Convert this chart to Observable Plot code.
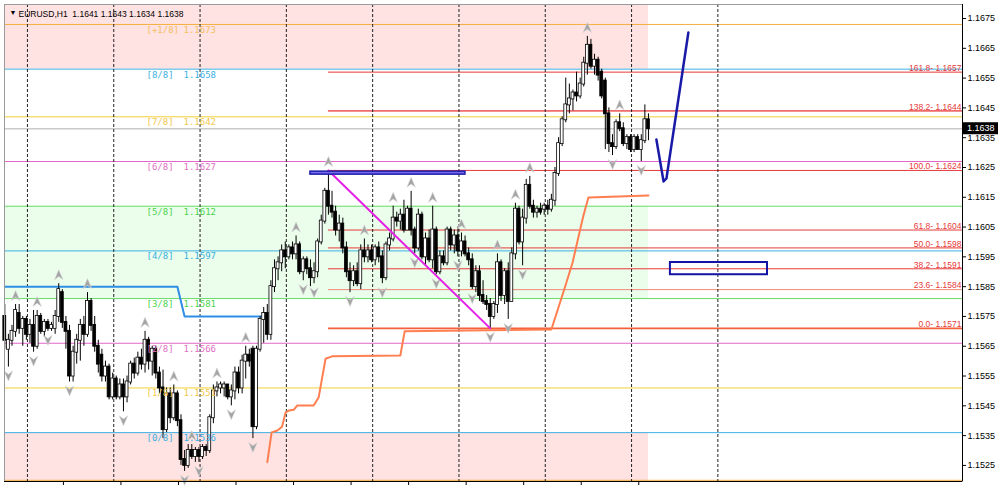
<!DOCTYPE html>
<html><head><meta charset="utf-8">
<script src="https://cdn.jsdelivr.net/npm/d3@7"></script>
<script src="https://cdn.jsdelivr.net/npm/@observablehq/plot@0.6"></script>
<style>
html,body{margin:0;padding:0;background:#fff;}
#chart{width:999px;height:486px;overflow:hidden;}
#chart svg{display:block;}
</style></head><body><div id="chart"></div>
<script>
const symbolName = "EURUSD,H1";
const lastQuote = [1.1641, 1.1643, 1.1634, 1.1638];

const opens = [1.1575,1.1564,1.1567,1.1570,1.1576,1.1571,1.1574,1.1569,1.1572,1.1565,1.1575,1.1570,1.1573,1.1571,1.1571,1.1575,1.1583,1.1573,1.1570,1.1555,
1.1563,1.1567,1.1572,1.1569,1.1580,1.1572,1.1565,1.1562,1.1555,1.1558,1.1548,1.1554,1.1548,1.1552,1.1548,1.1553,1.1559,1.1556,1.1561,1.1559,
1.1567,1.1560,1.1564,1.1556,1.1551,1.1537,1.1549,1.1541,1.1549,1.1540,1.1527,1.1525,1.1530,1.1528,1.1530,1.1528,1.1531,1.1530,1.1541,1.1550,
1.1551,1.1551,1.1552,1.1548,1.1550,1.1556,1.1551,1.1560,1.1562,1.1564,1.1538,1.1564,1.1574,1.1576,1.1569,1.1585,1.1591,1.1593,1.1597,1.1595,
1.1598,1.1596,1.1599,1.1590,1.1594,1.1591,1.1588,1.1590,1.1600,1.1607,1.1617,1.1612,1.1610,1.1604,1.1606,1.1598,1.1590,1.1587,1.1590,1.1586,
1.1597,1.1595,1.1597,1.1594,1.1598,1.1595,1.1588,1.1599,1.1601,1.1608,1.1607,1.1609,1.1604,1.1611,1.1604,1.1598,1.1609,1.1595,1.1601,1.1594,
1.1604,1.1590,1.1595,1.1593,1.1604,1.1599,1.1602,1.1597,1.1600,1.1596,1.1594,1.1585,1.1590,1.1582,1.1580,1.1579,1.1575,1.1579,1.1593,1.1582,
1.1590,1.1580,1.1596,1.1611,1.1600,1.1608,1.1619,1.1612,1.1610,1.1611,1.1611,1.1612,1.1611,1.1614,1.1623,1.1633,1.1641,1.1646,1.1648,1.1650,
1.1649,1.1653,1.1660,1.1666,1.1659,1.1661,1.1657,1.1654,1.1643,1.1633,1.1632,1.1640,1.1638,1.1633,1.1635,1.1631,1.1635,1.1631,1.1634,1.1641];
const highs = [1.1579,1.1569,1.1572,1.1579,1.1579,1.1575,1.1575,1.1574,1.1577,1.1577,1.1576,1.1574,1.1574,1.1573,1.1577,1.1586,1.1584,1.1575,1.1572,1.1565,
1.1569,1.1574,1.1575,1.1583,1.1581,1.1575,1.1567,1.1564,1.1560,1.1559,1.1556,1.1555,1.1554,1.1554,1.1555,1.1560,1.1561,1.1563,1.1564,1.1570,
1.1568,1.1565,1.1565,1.1558,1.1557,1.1551,1.1551,1.1552,1.1550,1.1542,1.1530,1.1532,1.1532,1.1531,1.1531,1.1532,1.1532,1.1542,1.1552,1.1553,
1.1553,1.1553,1.1552,1.1552,1.1558,1.1558,1.1562,1.1565,1.1564,1.1565,1.1565,1.1575,1.1578,1.1579,1.1587,1.1594,1.1595,1.1599,1.1600,1.1599,
1.1600,1.1602,1.1600,1.1595,1.1595,1.1594,1.1593,1.1601,1.1609,1.1618,1.1624,1.1617,1.1612,1.1609,1.1608,1.1600,1.1593,1.1592,1.1593,1.1599,
1.1601,1.1599,1.1599,1.1599,1.1600,1.1597,1.1600,1.1603,1.1612,1.1610,1.1611,1.1614,1.1612,1.1617,1.1605,1.1611,1.1610,1.1603,1.1604,1.1612,
1.1605,1.1597,1.1597,1.1605,1.1605,1.1604,1.1605,1.1603,1.1602,1.1598,1.1596,1.1592,1.1592,1.1587,1.1582,1.1581,1.1580,1.1596,1.1594,1.1591,
1.1593,1.1598,1.1613,1.1612,1.1611,1.1621,1.1622,1.1614,1.1612,1.1613,1.1613,1.1614,1.1616,1.1625,1.1635,1.1642,1.1655,1.1653,1.1651,1.1657,
1.1655,1.1662,1.1669,1.1668,1.1663,1.1662,1.1658,1.1655,1.1645,1.1636,1.1641,1.1643,1.1640,1.1636,1.1636,1.1636,1.1636,1.1636,1.1646,1.1643];
const lows = [1.1564,1.1558,1.1565,1.1568,1.1569,1.1565,1.1567,1.1566,1.1563,1.1564,1.1569,1.1568,1.1570,1.1570,1.1569,1.1573,1.1571,1.1564,1.1553,1.1553,
1.1559,1.1560,1.1565,1.1568,1.1570,1.1563,1.1556,1.1553,1.1553,1.1547,1.1547,1.1547,1.1547,1.1543,1.1546,1.1552,1.1554,1.1555,1.1557,1.1556,
1.1557,1.1555,1.1554,1.1549,1.1534,1.1536,1.1539,1.1540,1.1538,1.1525,1.1523,1.1524,1.1527,1.1526,1.1526,1.1527,1.1528,1.1529,1.1539,1.1548,
1.1549,1.1548,1.1547,1.1545,1.1547,1.1549,1.1549,1.1554,1.1558,1.1534,1.1537,1.1563,1.1566,1.1567,1.1567,1.1583,1.1587,1.1590,1.1591,1.1594,
1.1594,1.1594,1.1589,1.1587,1.1589,1.1585,1.1586,1.1588,1.1599,1.1606,1.1609,1.1608,1.1602,1.1600,1.1596,1.1588,1.1583,1.1585,1.1585,1.1584,
1.1593,1.1593,1.1593,1.1592,1.1593,1.1586,1.1587,1.1597,1.1600,1.1605,1.1604,1.1603,1.1604,1.1602,1.1596,1.1597,1.1594,1.1592,1.1593,1.1591,
1.1589,1.1589,1.1592,1.1592,1.1597,1.1596,1.1595,1.1595,1.1595,1.1592,1.1584,1.1583,1.1580,1.1579,1.1577,1.1571,1.1574,1.1576,1.1580,1.1579,
1.1574,1.1580,1.1594,1.1599,1.1592,1.1606,1.1611,1.1608,1.1608,1.1609,1.1609,1.1609,1.1610,1.1612,1.1622,1.1632,1.1640,1.1643,1.1644,1.1647,
1.1648,1.1652,1.1656,1.1658,1.1656,1.1654,1.1648,1.1631,1.1630,1.1629,1.1631,1.1637,1.1632,1.1631,1.1630,1.1630,1.1631,1.1627,1.1633,1.1634];
const closes = [1.1567,1.1567,1.1570,1.1577,1.1571,1.1574,1.1569,1.1572,1.1565,1.1575,1.1570,1.1573,1.1571,1.1572,1.1575,1.1584,1.1573,1.1570,1.1555,1.1563,
1.1567,1.1572,1.1569,1.1580,1.1572,1.1565,1.1559,1.1555,1.1558,1.1548,1.1554,1.1548,1.1552,1.1548,1.1553,1.1559,1.1556,1.1561,1.1559,1.1567,
1.1560,1.1564,1.1556,1.1551,1.1537,1.1549,1.1541,1.1549,1.1540,1.1527,1.1525,1.1530,1.1528,1.1530,1.1528,1.1531,1.1530,1.1541,1.1550,1.1551,
1.1552,1.1552,1.1548,1.1550,1.1556,1.1551,1.1560,1.1562,1.1560,1.1538,1.1564,1.1574,1.1576,1.1569,1.1585,1.1591,1.1593,1.1597,1.1595,1.1598,
1.1596,1.1599,1.1590,1.1594,1.1591,1.1588,1.1590,1.1600,1.1607,1.1617,1.1612,1.1610,1.1604,1.1606,1.1598,1.1590,1.1587,1.1590,1.1586,1.1597,
1.1595,1.1597,1.1594,1.1598,1.1595,1.1588,1.1599,1.1601,1.1608,1.1607,1.1609,1.1604,1.1611,1.1604,1.1598,1.1609,1.1595,1.1601,1.1594,1.1604,
1.1590,1.1595,1.1593,1.1604,1.1599,1.1602,1.1597,1.1600,1.1596,1.1594,1.1585,1.1590,1.1582,1.1580,1.1579,1.1575,1.1579,1.1593,1.1582,1.1590,
1.1580,1.1596,1.1611,1.1600,1.1608,1.1619,1.1612,1.1610,1.1611,1.1610,1.1612,1.1611,1.1614,1.1623,1.1633,1.1641,1.1646,1.1648,1.1650,1.1649,
1.1653,1.1660,1.1666,1.1659,1.1661,1.1656,1.1649,1.1643,1.1633,1.1632,1.1640,1.1638,1.1633,1.1635,1.1631,1.1635,1.1631,1.1634,1.1641,1.1638];

const fractalUpBars = [3, 9, 15, 23, 39, 47, 52, 59, 67, 81, 90, 100, 108, 113, 119, 127, 137, 142, 146, 162, 171];
const fractalDownBars = [1, 8, 12, 18, 33, 50, 54, 63, 69, 83, 86, 96, 105, 114, 120, 126, 130, 135, 140, 144, 169, 177];

const murrayNames  = ["+1/8", "8/8", "7/8", "6/8", "5/8", "4/8", "3/8", "2/8", "1/8", "0/8", "-1/8"];
const murrayValues = [1.1673, 1.1658, 1.1642, 1.1627, 1.1612, 1.1597, 1.1581, 1.1566, 1.1551, 1.1536, 1.1520];

const fibLevels = ["161.8", "138.2", "100.0", "61.8", "50.0", "38.2", "23.6", "0.0"];
const fibValues = [1.1657, 1.1644, 1.1624, 1.1604, 1.1598, 1.1591, 1.1584, 1.1571];
const fibStartBar = 90;

const trendBars = [90, 135];
const trendValues = [1.1624, 1.1571];

const stopBars   = [73, 74.2, 75.8, 77.1, 78.1, 79, 80.4, 81.3, 85.9, 87.3, 89.2, 91, 110, 111.2, 152.0, 153.7, 155.9, 157.9, 159.3, 160.9, 162.3, 179];
const stopValues = [1.15261, 1.15361, 1.15367, 1.15380, 1.15428, 1.15434, 1.15437, 1.15451, 1.15451, 1.15479, 1.15608, 1.15616, 1.15619, 1.15700, 1.15706, 1.15770, 1.15853, 1.15931, 1.16005, 1.16088, 1.16149, 1.16156];

const stepBars   = [0, 48, 50, 72];
const stepValues = [1.1585, 1.1585, 1.1575, 1.1575];

const forecastBars   = [181.2, 183.2, 184.0, 190.1];
const forecastValues = [1.16344, 1.16203, 1.16213, 1.16703];

const boxTopBars = [85, 128.1];
const boxTopValues = [1.16226, 1.16236];
const boxTargetBars = [185.1, 212.1];
const boxTargetValues = [1.1589, 1.15931];

const priceTicks = [1.1525,1.1535,1.1545,1.1555,1.1565,1.1575,1.1585,1.1595,1.1605,1.1615,1.1625,1.1635,1.1645,1.1655,1.1665,1.1675];
const dayGridBars = [6.3, 30.3, 54.3, 78.3, 102.3, 126.3, 150.3, 174.3, 198.3];
const timeTickBars = [16.3, 32.3, 48.3, 64.3, 80.3, 96.3, 112.3, 128.3, 144.3, 160.3, 176.3];

const xDomain = [-0.083, 266.33];
const yDomain = [1.15196, 1.16797];

// ---- build ----
const bars = opens.map((o, i) => ({i, o, h: highs[i], l: lows[i], c: closes[i]}));
const lastBar = bars.length - 1;
const murray = murrayNames.map((name, k) => ({name, v: murrayValues[k]}));
const murrayLabeled = murray.filter(d => d.name !== "-1/8");
const lineColor = {"+1/8":"#f2b040","8/8":"#3cb2e4","7/8":"#f2cf3a","6/8":"#e466c8","5/8":"#66dc66","4/8":"#3cb2e4","3/8":"#66dc66","2/8":"#e466c8","1/8":"#f2cf3a","0/8":"#3cb2e4","-1/8":"#f2b040"};
const textColor = {"+1/8":"#f5c060","8/8":"#3ab0e0","7/8":"#f2c94a","6/8":"#e070c4","5/8":"#4cd44c","4/8":"#3ab0e0","3/8":"#4cd44c","2/8":"#e070c4","1/8":"#f2c94a","0/8":"#3ab0e0"};
const fib = fibLevels.map((pct, k) => ({pct, v: fibValues[k]}));
const fibStroke = d => d.pct === "0.0" ? "#f4603c" : d.pct === "23.6" ? "#f08a7a" : d.pct === "138.2" ? "#f06a6a" : "#e63a3a";
const fibWidth = d => (d.pct === "0.0" || d.pct === "138.2") ? 1.6 : 1;

const pts = (xs, ys) => xs.map((x, k) => ({x, y: ys[k]}));

const arrowUp = {draw(ctx, size) { const r = Math.sqrt(size / Math.PI);
  ctx.moveTo(0, -r); ctx.lineTo(r * 0.85, r); ctx.lineTo(0, r * 0.35); ctx.lineTo(-r * 0.85, r); ctx.closePath(); }};
const arrowDown = {draw(ctx, size) { const r = Math.sqrt(size / Math.PI);
  ctx.moveTo(0, r); ctx.lineTo(r * 0.85, -r); ctx.lineTo(0, -r * 0.35); ctx.lineTo(-r * 0.85, -r); ctx.closePath(); }};

const zones = [
  {y1: murrayValues[1], y2: yDomain[1], fill: "#ffe2e2"},
  {y1: yDomain[0], y2: murrayValues[9], fill: "#ffe2e2"},
  {y1: murrayValues[6], y2: murrayValues[4], fill: "#ebfdeb"}
];

const svg = Plot.plot({
  width: 999, height: 486,
  marginLeft: 4, marginRight: 37, marginTop: 4, marginBottom: 5,
  style: {fontFamily: "'Liberation Sans', Arial, sans-serif", fontSize: "9px", background: "#fff", color: "#000"},
  x: {type: "linear", domain: xDomain},
  y: {type: "linear", domain: yDomain},
  marks: [
    Plot.rect(zones, {x1: () => xDomain[0], x2: () => lastBar, y1: "y1", y2: "y2", fill: d => d.fill}),
    Plot.ruleY(murray, {y: "v", stroke: d => lineColor[d.name], strokeWidth: 1}),
    Plot.ruleY([lastQuote[3]], {stroke: "#cacaca", strokeWidth: 1.5}),
    Plot.ruleY(fib, {y: "v", x1: () => fibStartBar, x2: () => xDomain[1], stroke: fibStroke, strokeWidth: fibWidth}),
    Plot.ruleX(dayGridBars, {stroke: "#222", strokeDasharray: "3,2", strokeWidth: 1}),
    Plot.line(pts(stopBars, stopValues), {x: "x", y: "y", stroke: "#ff7f50", strokeWidth: 2}),
    Plot.line(pts(stepBars, stepValues), {x: "x", y: "y", stroke: "#2e8ee6", strokeWidth: 2}),
    Plot.ruleX(bars, {x: "i", y1: "l", y2: "h", stroke: "#000", strokeWidth: 1}),
    Plot.rect(bars, {x1: d => d.i - 0.4, x2: d => d.i + 0.4, y1: d => Math.min(d.o, d.c), y2: d => Math.max(d.o, d.c),
      fill: d => d.c >= d.o ? "#fff" : "#000", stroke: "#000", strokeWidth: 0.8, insetTop: -0.5, insetBottom: -0.5}),
    Plot.dot(fractalUpBars, {x: i => i, y: i => highs[i], symbol: arrowUp, r: 5, dy: -9, fill: "#a4a4a4", stroke: "#d6d6d6", strokeWidth: 0.6}),
    Plot.dot(fractalDownBars, {x: i => i, y: i => lows[i], symbol: arrowDown, r: 5, dy: 9, fill: "#a4a4a4", stroke: "#d6d6d6", strokeWidth: 0.6}),
    Plot.line(pts(trendBars, trendValues), {x: "x", y: "y", stroke: "#e620e6", strokeWidth: 2}),
    Plot.rect([{x1: boxTopBars[0], x2: boxTopBars[1], y1: boxTopValues[0], y2: boxTopValues[1]}], {x1: "x1", x2: "x2", y1: "y1", y2: "y2", fill: "#7a6cf0", stroke: "#1c1ca8", strokeWidth: 1.5}),
    Plot.rect([{x1: boxTargetBars[0], x2: boxTargetBars[1], y1: boxTargetValues[0], y2: boxTargetValues[1]}], {x1: "x1", x2: "x2", y1: "y1", y2: "y2", fill: "none", stroke: "#1414a4", strokeWidth: 2}),
    Plot.line(pts(forecastBars, forecastValues), {x: "x", y: "y", stroke: "#1a1aa8", strokeWidth: 2.5}),
    Plot.text(murrayLabeled, {y: "v", text: d => `[${d.name}]`, frameAnchor: "left", textAnchor: "start", dx: 142, dy: 5.5, fill: d => textColor[d.name], fontFamily: "'DejaVu Sans Mono', monospace", fontSize: 9}),
    Plot.text(murrayLabeled, {y: "v", text: d => d.v.toFixed(4), frameAnchor: "left", textAnchor: "start", dx: 179, dy: 5.5, fill: d => textColor[d.name], fontFamily: "'DejaVu Sans Mono', monospace", fontSize: 9}),
    Plot.text(fib, {y: "v", text: d => `${d.pct}- ${d.v.toFixed(4)}`, frameAnchor: "right", textAnchor: "end", dx: -1, dy: -4, fill: "#e63a3a", fontSize: 8.5}),
    Plot.frame({stroke: "#9a9a9a"}),
    Plot.ruleX([xDomain[1]], {stroke: "#000", strokeWidth: 1}),
    Plot.ruleY([yDomain[0]], {stroke: "#000", strokeWidth: 1}),
    Plot.axisY(priceTicks, {anchor: "right", tickSize: 3, tickPadding: 2, tickFormat: d3.format(".4f"), fontSize: 9}),
    Plot.axisX(timeTickBars, {anchor: "bottom", tickSize: 4, tickFormat: () => ""}),
    Plot.text(["▼"], {frameAnchor: "top-left", dx: 5, dy: 6, textAnchor: "start", fontSize: 7, fill: "#000"}),
    Plot.text([`${symbolName}  ${lastQuote.map(v => v.toFixed(4)).join(" ")}`], {frameAnchor: "top-left", dx: 14, dy: 6, textAnchor: "start", fontSize: 8.5, fill: "#000"})
  ]
});
document.getElementById("chart").append(svg);

// current-price tag in the right margin, positioned with the chart's own y scale
const ns = "http://www.w3.org/2000/svg";
const yPix = svg.scale("y").apply(lastQuote[3]);
const xEdge = 999 - 37;
const tag = document.createElementNS(ns, "g");
const box = document.createElementNS(ns, "rect");
box.setAttribute("x", xEdge + 1); box.setAttribute("y", yPix - 6);
box.setAttribute("width", 35); box.setAttribute("height", 12);
box.setAttribute("fill", "#000");
const lbl = document.createElementNS(ns, "text");
lbl.setAttribute("x", xEdge + 5); lbl.setAttribute("y", yPix);
lbl.setAttribute("dy", "0.32em");
lbl.setAttribute("text-anchor", "start");
lbl.setAttribute("fill", "#fff");
lbl.setAttribute("font-size", "9");
lbl.setAttribute("font-family", "'Liberation Sans', Arial, sans-serif");
lbl.textContent = lastQuote[3].toFixed(4);
tag.append(box, lbl);
svg.append(tag);
</script>
</body></html>
